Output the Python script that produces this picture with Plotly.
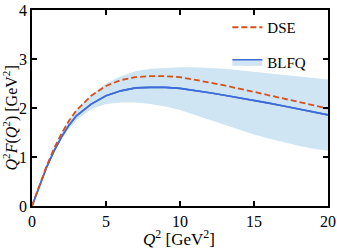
import plotly.graph_objects as go

q2 = [0, 0.5, 1, 1.5, 2, 2.5, 3, 4, 5, 6, 7, 8, 9, 10, 11, 12, 13, 14, 15, 16, 17, 18, 19, 20]
dse = [0, 0.43, 0.83, 1.18, 1.48, 1.74, 1.95, 2.25, 2.45, 2.57, 2.63, 2.65, 2.65, 2.63, 2.58, 2.52, 2.46, 2.40, 2.33, 2.26, 2.19, 2.12, 2.06, 1.99]
blfq = [0, 0.42, 0.80, 1.13, 1.41, 1.65, 1.84, 2.08, 2.25, 2.35, 2.41, 2.42, 2.42, 2.40, 2.36, 2.31, 2.26, 2.21, 2.15, 2.10, 2.04, 1.98, 1.92, 1.86]
blfq_hi = [0, 0.43, 0.83, 1.18, 1.50, 1.75, 1.96, 2.27, 2.50, 2.65, 2.75, 2.80, 2.82, 2.83, 2.83, 2.82, 2.80, 2.77, 2.74, 2.71, 2.68, 2.65, 2.61, 2.58]
blfq_lo = [0, 0.41, 0.78, 1.09, 1.36, 1.58, 1.75, 1.98, 2.08, 2.11, 2.11, 2.08, 2.03, 1.96, 1.86, 1.77, 1.67, 1.56, 1.46, 1.38, 1.30, 1.23, 1.17, 1.13]

x_ticks = [0, 5, 10, 15, 20]
y_ticks = [0, 1, 2, 3, 4]

BAND = "#cfe5f3"
BLUE = "#3d6bd8"
RED = "#d6501c"
FONT = "Times New Roman"

fig = go.Figure()
fig.add_trace(go.Scatter(x=q2, y=blfq_lo, mode="lines", line=dict(width=0, color=BAND),
                         showlegend=False, hoverinfo="skip"))
fig.add_trace(go.Scatter(x=q2, y=blfq, mode="lines", fill="tonexty", fillcolor=BAND,
                         line=dict(color=BLUE, width=1.6), name="BLFQ",
                         legendgroup="b", legendrank=2))
fig.add_trace(go.Scatter(x=q2, y=blfq_hi, mode="lines", fill="tonexty", fillcolor=BAND,
                         line=dict(width=0, color=BAND), showlegend=False, hoverinfo="skip"))
fig.add_trace(go.Scatter(x=q2, y=blfq, mode="lines", line=dict(color=BLUE, width=1.6),
                         showlegend=False))
fig.add_trace(go.Scatter(x=q2, y=dse, mode="lines", name="DSE",
                         line=dict(color=RED, width=1.8, dash="6px,3px"),
                         legendgroup="a", legendrank=1))

axis_common = dict(showline=True, linecolor="black", linewidth=1.8, mirror="allticks",
                   ticks="inside", ticklen=5, tickwidth=1.5, tickcolor="black",
                   showgrid=False, zeroline=False, automargin=False,
                   tickfont=dict(family=FONT, size=16, color="black"))

fig.update_xaxes(range=[0, 20], tickvals=x_ticks, ticktext=[str(v) for v in x_ticks],
                 **axis_common)
fig.update_yaxes(range=[0, 4], tickvals=y_ticks, ticktext=[str(v) for v in y_ticks],
                 **axis_common)

fig.add_annotation(text="<i>Q</i><sup>2</sup> [GeV<sup>2</sup>]", xref="paper", yref="paper",
                   x=0.497, y=-0.165, xanchor="center", yanchor="middle", showarrow=False,
                   font=dict(family=FONT, size=17, color="black"))
fig.add_annotation(text="<i>Q</i><sup>2</sup><i>F</i>(<i>Q</i><sup>2</sup>) [GeV<sup>2</sup>]",
                   xref="paper", yref="paper", x=-0.072, y=0.45, xanchor="center",
                   yanchor="middle", textangle=-90, showarrow=False,
                   font=dict(family=FONT, size=16, color="black"))

fig.update_layout(
    width=337, height=249,
    margin=dict(l=32, r=9, t=10, b=43),
    plot_bgcolor="white", paper_bgcolor="white",
    legend=dict(x=0.66, y=0.995, xanchor="left", yanchor="top",
                bgcolor="rgba(0,0,0,0)", font=dict(family=FONT, size=15, color="black"),
                traceorder="grouped", tracegroupgap=12, itemwidth=30),
    font=dict(family=FONT, size=15, color="black"),
)

fig.write_html("out.html", post_script="document.body.style.margin='0';",
               config={"displayModeBar": False})
